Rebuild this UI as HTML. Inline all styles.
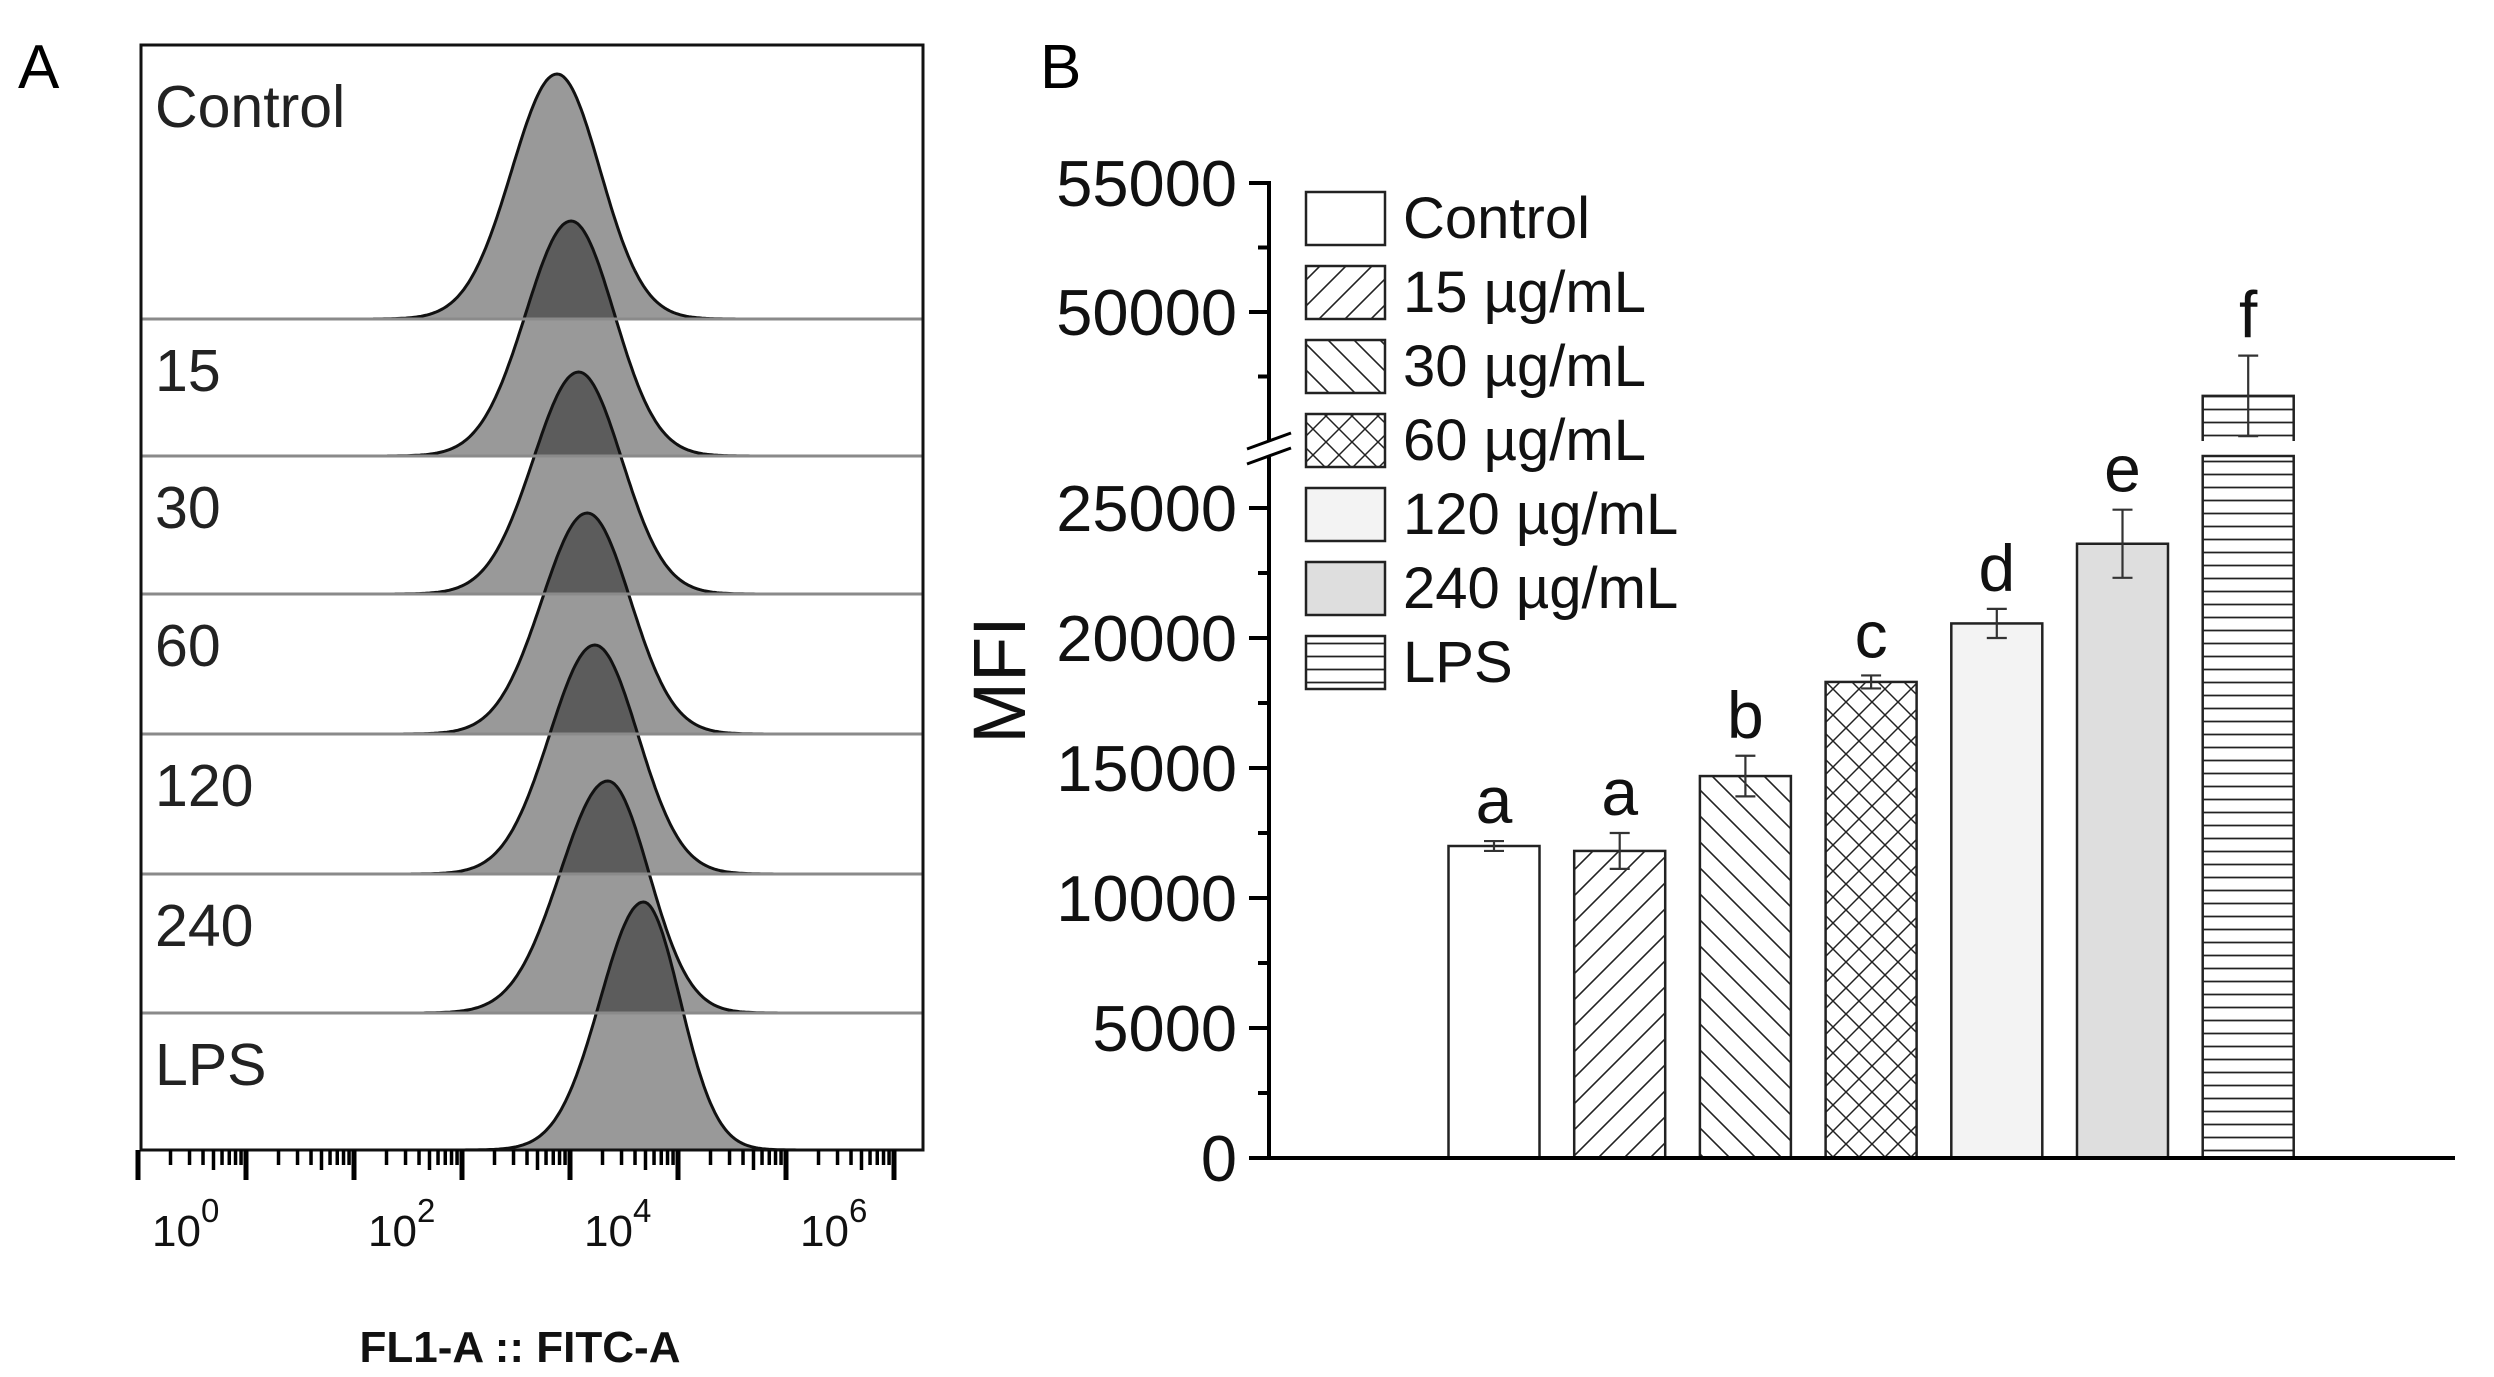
<!DOCTYPE html>
<html><head><meta charset="utf-8"><style>
html,body{margin:0;padding:0;background:#fff}
svg{display:block;font-family:"Liberation Sans",Arial,sans-serif}
</style></head><body>
<svg id="fig" width="2494" height="1377" viewBox="0 0 2494 1377" xmlns="http://www.w3.org/2000/svg">
<defs>
<pattern id="p15" patternUnits="userSpaceOnUse" width="26" height="26"><path d="M-2,28 L28,-2 M-15,15 L15,-15 M11,41 L41,11" stroke="#222" stroke-width="1.6"/></pattern>
<pattern id="p30" patternUnits="userSpaceOnUse" width="26" height="26"><path d="M-2,-2 L28,28 M-15,11 L15,41 M11,-15 L41,15" stroke="#222" stroke-width="1.6"/></pattern>
<pattern id="p60" patternUnits="userSpaceOnUse" width="26" height="26"><path d="M-2,28 L28,-2 M-15,15 L15,-15 M11,41 L41,11 M-2,-2 L28,28 M-15,11 L15,41 M11,-15 L41,15" stroke="#222" stroke-width="1.5"/></pattern>
<pattern id="pLPS" patternUnits="userSpaceOnUse" width="20" height="13"><path d="M0,6.5 L20,6.5" stroke="#222" stroke-width="1.8"/></pattern>
</defs>
<text x="18" y="88" font-size="62">A</text>
<text x="1040" y="88" font-size="62">B</text>
<g id="panelA"></g>
<g id="panelB"></g>
</svg>
<script>
// ---------- Panel A data ----------
const rowLabels = ["Control","15","30","60","120","240","LPS"];
const histPeak = [3.88, 4.01, 4.08, 4.16, 4.23, 4.35, 4.68];   // in decades from first major tick
const histHeight = [245, 235, 222, 221, 229, 232, 248];
const histSigL = [0.42, 0.42, 0.42, 0.42, 0.42, 0.44, 0.40];
const histSigR = [0.40, 0.40, 0.40, 0.40, 0.40, 0.38, 0.34];
const decadeLabels = ["0","2","4","6"];
const decadeLabelPos = [0, 2, 4, 6];

// ---------- Panel B data ----------
const categories = ["Control","15 µg/mL","30 µg/mL","60 µg/mL","120 µg/mL","240 µg/mL","LPS"];
const values = [12000, 11810, 14690, 18310, 20560, 23625, 46750];
const errors = [190, 690, 780, 250, 560, 1310, 1560];
const letters = ["a","a","b","c","d","e","f"];
const lowerTicks = [0, 5000, 10000, 15000, 20000, 25000];
const upperTicks = [50000, 55000];
const lowerMinor = [2500, 7500, 12500, 17500, 22500];
const upperMinor = [47500, 52500];

const NS = "http://www.w3.org/2000/svg";
function el(tag, attrs, parent){const e=document.createElementNS(NS,tag);for(const k in attrs)e.setAttribute(k,attrs[k]);parent.appendChild(e);return e;}

// ---------- Panel A ----------
const A = document.getElementById('panelA');
const boxL=141, boxR=923, boxT=45, boxB=1150;
const rowTops=[boxT,319,456,594,734,874,1013];
const rowBottoms=[319,456,594,734,874,1013,1150];
const xs = d => 138 + 108*d;
for(let i=0;i<rowLabels.length;i++){
  const base=rowBottoms[i]; let pts=[];
  for(let d=histPeak[i]-1.7; d<=histPeak[i]+1.7; d+=0.02){
    const s = d<histPeak[i]?histSigL[i]:histSigR[i];
    const h = histHeight[i]*Math.exp(-0.5*Math.pow((d-histPeak[i])/s,2));
    pts.push([xs(d), base-h]);
  }
  let dd="M"+pts[0][0].toFixed(1)+","+base;
  pts.forEach(p=>dd+=" L"+p[0].toFixed(1)+","+p[1].toFixed(1));
  dd+=" L"+pts[pts.length-1][0].toFixed(1)+","+base+" Z";
  const p=el('path',{d:dd,fill:"#000","fill-opacity":"0.4",stroke:"#111","stroke-width":"3","stroke-linejoin":"round"},A);
  
  
}
for(let i=1;i<rowTops.length;i++){
  const l=el('line',{x1:boxL,x2:boxR,y1:rowTops[i],y2:rowTops[i],stroke:"#8a8a8a","stroke-width":"3"},A);
  
  
}
const bx=el('rect',{x:boxL,y:boxT,width:boxR-boxL,height:boxB-boxT,fill:"none",stroke:"#111","stroke-width":"3"},A);


for(let i=0;i<rowLabels.length;i++){
  const t=el('text',{x:155,y:(i===0?boxT+82:rowTops[i]+72),"font-size":"59",fill:"#222"},A);
  t.textContent=rowLabels[i];
  
  
}
for(let k=0;k<=7;k++){
  const t=el('line',{x1:xs(k),x2:xs(k),y1:boxB,y2:boxB+30,stroke:"#000","stroke-width":"5"},A);
  
  
  if(k<7) for(let m=2;m<=9;m++){
    const x=xs(k+Math.log10(m));
    const mt=el('line',{x1:x,x2:x,y1:boxB,y2:boxB+(m===5?20:15),stroke:"#000","stroke-width":"3.5"},A);
    
    
  }
}
for(let i=0;i<decadeLabels.length;i++){
  const cx=xs(decadeLabelPos[i])+38;
  const t=el('text',{x:cx-24,y:1246,"font-size":"44",fill:"#111"},A);
  t.textContent="10";
  const s=el('tspan',{dy:"-24","font-size":"33"},t); s.textContent=decadeLabels[i];
  
  
}
const xt=el('text',{x:520,y:1362,"font-size":"44","font-weight":"bold","text-anchor":"middle",fill:"#111"},A);
xt.textContent="FL1-A :: FITC-A";



// ---------- Panel B ----------
const B=document.getElementById('panelB');
const axX=1269, y0=1158, lowMax=27000, upMin=45000;
function yv(v){ return v<=lowMax ? y0 - v*0.026 : 441 - (v-upMin)*0.0258; }
const fills=["#fff","url(#p15)","url(#p30)","url(#p60)","#f3f3f3","#dedede","url(#pLPS)"];
const cx0=1494, step=125.7, bw=91;
for(let i=0;i<categories.length;i++){
  const cx=cx0+step*i, x=cx-bw/2;
  const g=el('g',{},B);
  
  
  if(values[i]>lowMax){
    el('rect',{x:x,y:yv(lowMax),width:bw,height:y0-yv(lowMax),fill:fills[i],stroke:"#222","stroke-width":"2.5"},g);
    const top=yv(values[i]);
    el('rect',{x:x,y:top,width:bw,height:yv(upMin)-top,fill:fills[i]},g);
    el('path',{d:`M${x},${yv(upMin)} L${x},${top} L${x+bw},${top} L${x+bw},${yv(upMin)}`,fill:"none",stroke:"#222","stroke-width":"2.5"},g);
  } else {
    el('rect',{x:x,y:yv(values[i]),width:bw,height:y0-yv(values[i]),fill:fills[i],stroke:"#222","stroke-width":"2.5"},g);
  }
  const yt=yv(values[i]+errors[i]), yb=yv(values[i]-errors[i]);
  const eb=el('path',{d:`M${cx},${yt} L${cx},${yb} M${cx-10},${yt} L${cx+10},${yt} M${cx-10},${yb} L${cx+10},${yb}`,stroke:"#333","stroke-width":"2.2",fill:"none"},B);
  
  
  const lt=el('text',{x:cx,y:yt-18,"font-size":"66","text-anchor":"middle",fill:"#111"},B);
  lt.textContent=letters[i];
  
  
}
const ya=el('path',{d:`M${axX},${y0+2} L${axX},${yv(lowMax)} M${axX},${yv(upMin)} L${axX},183 L${axX-20},183`,stroke:"#000","stroke-width":"4",fill:"none"},B);


const brk=el('path',{d:`M${axX-22},${yv(upMin)+8} L${axX+22},${yv(upMin)-8} M${axX-22},${yv(lowMax)+8} L${axX+22},${yv(lowMax)-8}`,stroke:"#000","stroke-width":"3"},B);


const xa=el('line',{x1:1250,x2:2455,y1:y0,y2:y0,stroke:"#000","stroke-width":"4"},B);


lowerTicks.concat(upperTicks).forEach(v=>{
  const y=yv(v);
  const t=el('line',{x1:axX-20,x2:axX,y1:y,y2:y,stroke:"#000","stroke-width":"4"},B);
  
  
  const l=el('text',{x:1237,y:y+23,"font-size":"65","text-anchor":"end",fill:"#111"},B);
  l.textContent=String(v);
  
  
});
lowerMinor.concat(upperMinor).forEach(v=>{
  const y=yv(v);
  const t=el('line',{x1:axX-11,x2:axX,y1:y,y2:y,stroke:"#000","stroke-width":"4"},B);
  
  
});
const yt=el('text',{x:0,y:0,"font-size":"74","text-anchor":"middle",fill:"#111",transform:"translate(1025,680) rotate(-90)"},B);
yt.textContent="MFI";


for(let i=0;i<categories.length;i++){
  const top=192+74*i;
  const g=el('g',{},B);
  
  
  el('rect',{x:1306,y:top,width:79,height:53,fill:fills[i],stroke:"#222","stroke-width":"2.5"},g);
  const t=el('text',{x:1403,y:top+46,"font-size":"58",fill:"#111"},g);
  t.textContent=categories[i];
}
</script>
</body></html>
